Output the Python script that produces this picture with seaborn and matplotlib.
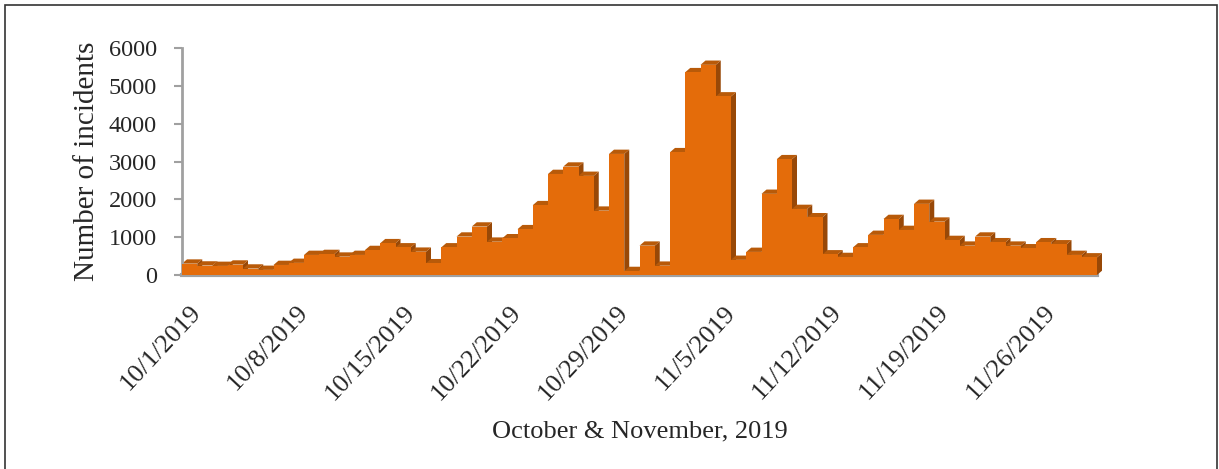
import numpy as np
import pandas as pd
import matplotlib
matplotlib.use("Agg")
import matplotlib.pyplot as plt
import seaborn as sns
from matplotlib.patches import Polygon, Rectangle

# ---------------- data ----------------
days = pd.date_range("2019-10-01", "2019-11-29", freq="D")
day_labels = [f"{d.month}/{d.day}/{d.year}" for d in days]
incidents = [
    300, 250, 240, 275, 170, 135, 265, 320, 530, 555,
    485, 530, 660, 840, 730, 615, 310, 730, 1015, 1280,
    880, 970, 1210, 1845, 2670, 2865, 2620, 1700, 3200, 105,
    775, 245, 3245, 5360, 5555, 4720, 400, 610, 2145, 3060,
    1745, 1525, 545, 475, 730, 1060, 1480, 1190, 1880, 1410,
    925, 775, 1015, 865, 775, 705, 865, 810, 530, 465,
]
tick_labels = ["10/1/2019", "10/8/2019", "10/15/2019", "10/22/2019",
               "10/29/2019", "11/5/2019", "11/12/2019", "11/19/2019",
               "11/26/2019"]
y_ticks = [0, 1000, 2000, 3000, 4000, 5000, 6000]

FRONT = "#E46C0A"
TOP = "#B85A09"
SIDE = "#984807"
GRAY = "#A0A0A0"

sns.set_style("white")
plt.rcParams["font.family"] = ["Liberation Serif", "DejaVu Serif"]

W, H = 1219, 469
fig = plt.figure(figsize=(W / 100, H / 100), dpi=100)
ax_l, ax_r, ax_t, ax_b = 182, 1097, 48, 275
ax = fig.add_axes([ax_l / W, 1 - ax_b / H, (ax_r - ax_l) / W, (ax_b - ax_t) / H])

df = pd.DataFrame({"day": day_labels, "incidents": incidents})
sns.barplot(data=df, x="day", y="incidents", color=FRONT, saturation=1,
            width=1.0, linewidth=0, ax=ax, zorder=3)

n = len(incidents)
ax.set_xlim(-0.5, n - 0.5)
ax.set_ylim(0, 6000)

# 3-D depth faces derived from the drawn bars
ddx = 5.0 / ((ax_r - ax_l) / n)
ddy = 4.3 * 6000 / (ax_b - ax_t)
bars = list(ax.patches)
for p in bars:
    x0 = p.get_x(); x1 = x0 + p.get_width(); h = p.get_height()
    ax.add_patch(Polygon([(x1, 0), (x1, h), (x1 + ddx, h + ddy), (x1 + ddx, ddy)],
                         closed=True, facecolor=SIDE, edgecolor="none",
                         zorder=1, clip_on=False))
for p in bars:
    x0 = p.get_x(); x1 = x0 + p.get_width(); h = p.get_height()
    ax.add_patch(Polygon([(x0, h), (x1, h), (x1 + ddx, h + ddy), (x0 + ddx, h + ddy)],
                         closed=True, facecolor=TOP, edgecolor="none",
                         zorder=2, clip_on=False))

# axes styling
for s in ["top", "right"]:
    ax.spines[s].set_visible(False)
ax.spines["left"].set_color(GRAY)
ax.spines["left"].set_linewidth(2)
ax.spines["bottom"].set_color(GRAY)
ax.spines["bottom"].set_linewidth(3)
ax.spines["bottom"].set_zorder(0)

ax.set_yticks(y_ticks)
ax.set_yticklabels([str(v) for v in y_ticks], fontsize=17.5)
ax.tick_params(axis="y", direction="out", length=6, width=1.5, color=GRAY,
               pad=12, left=True)

pos = [day_labels.index(t) for t in tick_labels]
ax.set_xticks(pos)
ax.set_xticklabels(tick_labels, rotation=47, ha="right",
                   rotation_mode="anchor", fontsize=19)
ax.tick_params(axis="x", length=0, pad=19)

ax.set_xlabel("October & November, 2019", fontsize=19)
ax.xaxis.set_label_coords(0.5, -0.64)
ax.set_ylabel("Number of incidents", fontsize=21, labelpad=6)
ax.grid(False)

# outer chart border
fig.patches.append(Rectangle((5 / W, -0.05), (1217 - 5) / W, 1.05 - 5 / H,
                             transform=fig.transFigure, fill=False,
                             edgecolor="#333333", linewidth=1.2))

fig.savefig("out.png", dpi=100, facecolor="white")
